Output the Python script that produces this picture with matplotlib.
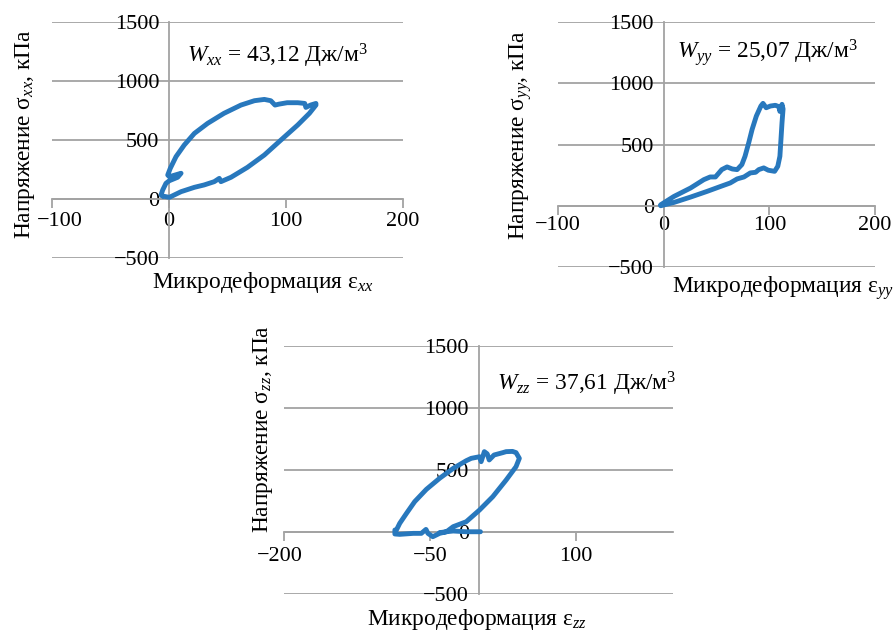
import matplotlib
matplotlib.use("Agg")
import matplotlib.pyplot as plt
from matplotlib.transforms import ScaledTranslation

plt.rcParams['font.family'] = ['Liberation Serif', 'DejaVu Serif']
plt.rcParams['mathtext.fontset'] = 'custom'
plt.rcParams['mathtext.rm'] = 'Liberation Serif'
plt.rcParams['mathtext.it'] = 'Liberation Serif:italic'
plt.rcParams['axes.unicode_minus'] = True

# ---------------- data ----------------
xx_strain = [-5.4, 0.3, 10.3, 21.7, 30, 38.7, 43, 44.4, 53, 67, 81.5, 95.7, 110, 120, 125.6, 125.6,
             121, 117, 116, 110, 101, 94, 90.6, 87, 81.5, 73, 61.5, 47, 33, 21.7, 13, 6, 1.1, -1.1,
             0.3, 10.3, 7.4, 0.3, -2.6, -5.4, -6.8, -5.4]
xx_stress = [25, 14, 62, 99, 119, 147, 175, 147, 184, 268, 373, 500, 627, 726, 796, 810,
             796, 776, 810, 816, 816, 804, 796, 833, 844, 833, 796, 726, 641, 556, 457, 359, 260, 203,
             189, 218, 184, 155, 133, 76, 34, 25]

yy_strain = [-2.8, 9.7, 25.5, 38, 44, 49, 55, 60, 65, 69.5, 74, 77, 80.5, 83.7, 87.7, 92, 94, 97,
             101, 105.7, 109, 110, 112, 113, 112, 111, 110, 108, 105, 99, 94.7, 90, 87, 82, 76,
             69.5, 63, 54, 41, 25.5, 9.7, -2.8]
yy_stress = [8, 76, 145, 213, 235, 235, 295, 317, 300, 295, 336, 404, 514, 623, 732, 814, 836, 800,
             814, 820, 809, 770, 828, 790, 678, 541, 404, 322, 281, 290, 309, 295, 273, 268, 235,
             219, 186, 158, 117, 71, 27, 0]

zz_strain = [2, -12.6, -26, -33, -40, -47, -52, -54, -58.8, -67, -81, -86, -86, -84.4, -81, -74,
             -65.6, -53.6, -40, -26, -12.6, -7.5, 1, 2.7, 6, 9, 11, 16, 25, 28.4, 35, 38.6, 42, 38.6,
             28.4, 14.7, 1, -12.6, -26, -33, -40]
zz_stress = [2, 2, 8, 2, -11, -38, -11, 21, -11, -11, -19, -16, 16, 16, 70, 151,
             245, 344, 433, 513, 575, 594, 607, 567, 648, 630, 581, 621, 640, 648, 650, 640, 594, 527,
             419, 285, 177, 83, 43, 2, -5]

y_ticks = [-500, 0, 500, 1000, 1500]
x_ticks_xy = [-100, 0, 100, 200]
x_ticks_z = [-200, -50, 100]

W_labels = [r'$W_{xx}$ = 43,12 Дж/$\mathrm{м}^{3}$',
            r'$W_{yy}$ = 25,07 Дж/$\mathrm{м}^{3}$',
            r'$W_{zz}$ = 37,61 Дж/$\mathrm{м}^{3}$']
y_labels = [r'Напряжение $\mathrm{σ}_{xx}$, кПа',
            r'Напряжение $\mathrm{σ}_{yy}$, кПа',
            r'Напряжение $\mathrm{σ}_{zz}$, кПа']
x_labels = [r'Микродеформация $\mathrm{ε}_{xx}$',
            r'Микродеформация $\mathrm{ε}_{yy}$',
            r'Микродеформация $\mathrm{ε}_{zz}$']

# ---------------- figure ----------------
W, H = 893, 635
fig = plt.figure(figsize=(W / 100, H / 100), dpi=100)

GRAY = '#a3a3a3'
BLUE = '#2878bd'
FS = 16
LFS = 16.8


def px_axes(x0, y0, x1, y1):
    return fig.add_axes([x0 / W, 1 - y1 / H, (x1 - x0) / W, (y1 - y0) / H])


def ftext(px, py, s, **kw):
    fig.text(px / W, 1 - py / H, s, fontsize=LFS, **kw)


panels = [
    dict(box=(52, 22, 403, 258), xlim=(-100, 200), xt=x_ticks_xy, x=xx_strain, y=xx_stress,
         xpad=3, wpos=(187, 62), ylpos=(25, 134), xlpos=(152, 288), shift_first=8),
    dict(box=(558, 22, 875, 267), xlim=(-100, 200), xt=x_ticks_xy, x=yy_strain, y=yy_stress,
         xpad=1, wpos=(677, 58), ylpos=(521, 135), xlpos=(672, 293), shift_first=0),
    dict(box=(284, 346, 673, 594), xlim=(-200, 200), xt=x_ticks_z, x=zz_strain, y=zz_stress,
         xpad=4, wpos=(497, 390), ylpos=(263, 429), xlpos=(367, 625), shift_first=-4),
]

for i, p in enumerate(panels):
    ax = px_axes(*p['box'])
    ax.set_xlim(*p['xlim'])
    ax.set_ylim(-500, 1500)
    ax.set_xticks(p['xt'])
    ax.set_yticks(y_ticks)
    ax.set_facecolor('none')
    for s in ['top', 'right']:
        ax.spines[s].set_visible(False)
    ax.spines['left'].set_position(('data', 0))
    ax.spines['bottom'].set_position(('data', 0))
    for s in ['left', 'bottom']:
        ax.spines[s].set_color(GRAY)
        ax.spines[s].set_linewidth(1.3)
    ax.yaxis.grid(True, color=GRAY, linewidth=1.3)
    ax.set_axisbelow(True)
    ax.tick_params(axis='y', length=0, pad=7, labelsize=FS)
    ax.tick_params(axis='x', direction='out', length=6.5, width=1.3, color=GRAY,
                   pad=p['xpad'], labelsize=FS)
    if p['shift_first']:
        lab = ax.get_xticklabels()[0]
        lab.set_transform(lab.get_transform() +
                          ScaledTranslation(p['shift_first'] / 100, 0, fig.dpi_scale_trans))
    ax.plot(p['x'], p['y'], color=BLUE, linewidth=3.5, solid_joinstyle='round',
            solid_capstyle='round', zorder=3)

    ftext(*p['wpos'], W_labels[i], ha='left', va='baseline')
    ftext(*p['ylpos'], y_labels[i], ha='center', va='center', rotation=90)
    ftext(*p['xlpos'], x_labels[i], ha='left', va='baseline')

fig.savefig('out.png', dpi=100)
